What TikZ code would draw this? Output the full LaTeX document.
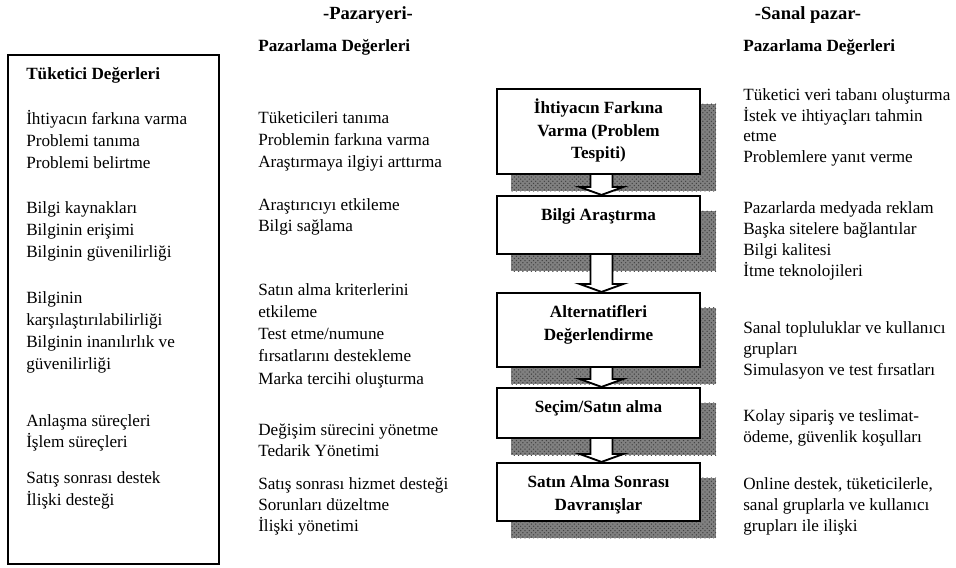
\documentclass[tikz,border=0pt]{standalone}
\usepackage{fontspec}
\setmainfont{Liberation Serif}
\usetikzlibrary{positioning, calc, backgrounds, patterns}

\tikzset{
  item/.style={anchor=mid west, inner sep=0pt, font=\fontsize{12}{14}\selectfont},
  baslik/.style={anchor=mid west, inner sep=0pt, font=\fontsize{12}{14}\selectfont\bfseries},
  ustbaslik/.style={inner sep=0pt, font=\fontsize{13}{15}\selectfont\bfseries},
  stepbox/.style={draw, line width=1.5pt, fill=white, minimum width=142.1pt, inner sep=0pt},
  boxlabel/.style={align=center, inner sep=0pt, font=\fontsize{12}{15.8}\selectfont\bfseries},
  golge/.style={fill=black!50, postaction={pattern=crosshatch dots, pattern color=black!75}},
  blokok/.style={draw=black, fill=white, line width=1.3pt, line join=miter}
}

\newcommand{\blokok}[2]{%
  \draw[blokok] ($(#1.south)+(-8,0)$) -- ($(#2.north)+(-8,-8)$) -- ($(#2.north)+(-19,-8)$)
    -- ($(#2.north)+(3,0)$) -- ($(#2.north)+(25,-8)$) -- ($(#2.north)+(14,-8)$)
    -- ($(#1.south)+(14,0)$);}

\begin{document}
\begin{tikzpicture}[x=0.7pt, y=-0.7pt]
    \useasboundingbox (0,0) rectangle (956,567);

    % left: consumer values
    \node[draw, line width=1.1pt, minimum width=147.7pt, minimum height=356.3pt] (solbox) at (113.5,309.5) {};
    \node[baslik] (solbaslik) at (26,76) {Tüketici Değerleri};
    \foreach \y/\t [count=\i] in {121/{İhtiyacın farkına varma}, 143/{Problemi tanıma}, 165/{Problemi belirtme},
        210/{Bilgi kaynakları}, 232/{Bilginin erişimi}, 254/{Bilginin güvenilirliği},
        300/{Bilginin}, 322/{karşılaştırılabilirliği}, 344/{Bilginin inanılırlık ve}, 366/{güvenilirliği},
        423/{Anlaşma süreçleri}, 444/{İşlem süreçleri},
        480/{Satış sonrası destek}, 502/{İlişki desteği}} {
        \node[item] (sol\i) at (26,\y) {\t};
    }

    % middle: market place
    \node[ustbaslik] (pazaryeri) at (368,15) {-Pazaryeri-};
    \node[baslik] (ortabaslik) at (258,48) {Pazarlama Değerleri};
    \foreach \y/\t [count=\i] in {120/{Tüketicileri tanıma}, 142/{Problemin farkına varma}, 164/{Araştırmaya ilgiyi arttırma},
        207/{Araştırıcıyı etkileme}, 228/{Bilgi sağlama},
        292/{Satın alma kriterlerini}, 314/{etkileme}, 336/{Test etme/numune}, 358/{fırsatlarını destekleme}, 381/{Marka tercihi oluşturma},
        432/{Değişim sürecini yönetme}, 453/{Tedarik Yönetimi},
        486/{Satış sonrası hizmet desteği}, 507/{Sorunları düzeltme}, 528/{İlişki yönetimi}} {
        \node[item] (orta\i) at (258,\y) {\t};
    }

    % right: virtual market
    \node[ustbaslik] (sanalpazar) at (808,15) {-Sanal pazar-};
    \node[baslik] (sagbaslik) at (743,48) {Pazarlama Değerleri};
    \foreach \y/\t [count=\i] in {97/{Tüketici veri tabanı oluşturma}, 118/{İstek ve ihtiyaçları tahmin}, 138/{etme}, 159/{Problemlere yanıt verme},
        210/{Pazarlarda medyada reklam}, 231/{Başka sitelere bağlantılar}, 252/{Bilgi kalitesi}, 273/{İtme teknolojileri},
        330/{Sanal topluluklar ve kullanıcı}, 351/{grupları}, 372/{Simulasyon ve test fırsatları},
        418/{Kolay sipariş ve teslimat-}, 439/{ödeme, güvenlik koşulları},
        486/{Online destek, tüketicilerle,}, 507/{sanal gruplarla ve kullanıcı}, 528/{grupları ile ilişki}} {
        \node[item] (sag\i) at (743,\y) {\t};
    }

    % decision steps
    \node[stepbox, minimum height=59.5pt] (b1) at (598.5,131.5) {};
    \node[stepbox, minimum height=40.6pt] (b2) at (598.5,225) {};
    \node[stepbox, minimum height=51.8pt] (b3) at (598.5,330) {};
    \node[stepbox, minimum height=35pt] (b4) at (598.5,413) {};
    \node[stepbox, minimum height=40.6pt] (b5) at (598.5,492) {};

    \node[boxlabel, below=6.8pt of b1.north] (e1) {\rule{0pt}{11pt}İhtiyacın Farkına\\Varma (Problem\\Tespiti)};
    \node[boxlabel, below=6.8pt of b2.north] (e2) {\rule{0pt}{11pt}Bilgi Araştırma};
    \node[boxlabel, below=6.8pt of b3.north] (e3) {\rule{0pt}{11pt}Alternatifleri\\Değerlendirme};
    \node[boxlabel, below=6.8pt of b4.north] (e4) {\rule{0pt}{11pt}Seçim/Satın alma};
    \node[boxlabel, below=6.8pt of b5.north] (e5) {\rule{0pt}{11pt}Satın Alma Sonrası\\Davranışlar};

    \begin{pgfonlayer}{background}
        % shadows
        \foreach \b in {b1,b2,b3,b4,b5} {
            \fill[golge] ($(\b.north west)+(15,16)$) rectangle ($(\b.south east)+(15,16)$);
        }
        % block arrows
        \blokok{b1}{b2}
        \blokok{b2}{b3}
        \blokok{b3}{b4}
        \blokok{b4}{b5}
    \end{pgfonlayer}
\end{tikzpicture}
\end{document}
